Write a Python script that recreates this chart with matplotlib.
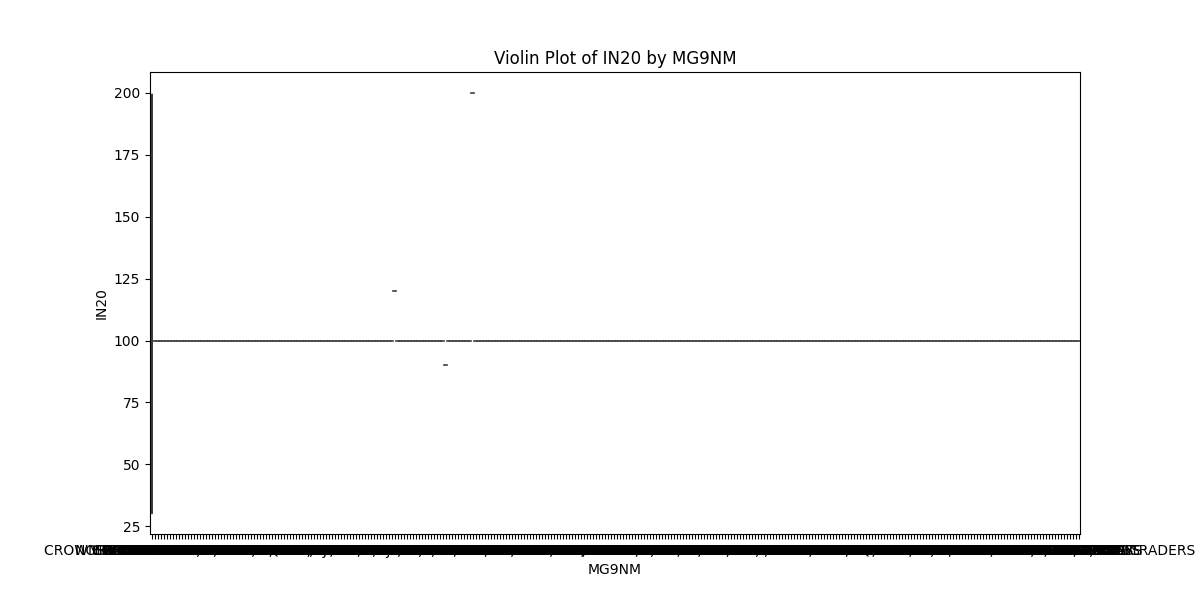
"""
Violin plot of IN20 by MG9NM.

Almost every MG9NM group has a single IN20 reading, so its "violin" collapses
to a short horizontal tick; only the first group has enough readings for a KDE.
"""

import matplotlib

matplotlib.use("Agg")
import matplotlib.pyplot as plt
import numpy as np

# ── data ────────────────────────────────────────────────────────────────────
categories = [
    "CROWN WHOLESALE SUPPLIES", "GWINNETT FARMS", "NORTH STAR LOGISTICS", "HARBOR MILLS, INC", "ATLAS PRODUCE",
    "BLUE RIDGE DAIRY", "SUMMIT TRADING CO", "EAGLE FOODS", "PIONEER GRAIN, LLC", "VALLEY FRESH",
    "METRO DISTRIBUTING", "OAKWOOD PROVISIONS", "RIVERSIDE MARKET", "GOLDEN STATE FOODS", "PRAIRIE HARVEST",
    "LAKESHORE BAKERY, INC", "COASTAL SEAFOOD", "GRANITE PEAK SUPPLY", "KEYSTONE MEATS", "HIGHLAND ORCHARDS",
    "CEDAR CREEK FARMS", "FRONTIER BEVERAGE", "MIDWEST PACKING, CO", "SUNRISE CITRUS", "IRONWOOD TRADERS",
    "LIBERTY FOODS", "BAYVIEW IMPORTS", "CANYON RANCH MEATS", "SILVER LAKE DAIRY", "TRI-COUNTY GROCERS",
    "HERITAGE MILLING", "EVERGREEN PRODUCE, LLC", "PINNACLE FOODS", "MAPLE LEAF FARMS", "DELTA RICE CO",
    "CAPITAL CITY SUPPLY", "NORTHERN LIGHTS, INC", "SOUTHERN PRIDE", "WESTFIELD GRAIN", "MERIDIAN FOODS",
    "REDWOOD BREWING", "FAIRVIEW CREAMERY", "BRIGHTON MARKETS", "HILLCREST FARMS, CO", "STERLING PROVISIONS",
    "MAGNOLIA FOODS", "PACIFIC RIM TRADING", "ROCKY MOUNTAIN BEEF", "COUNTRYSIDE EGGS", "ANCHOR FISHERIES",
    "BENCHMARK FOODS, INC", "CROSSROADS SUPPLY", "WILLOW BROOK DAIRY", "THUNDER BAY MILLS", "CORNERSTONE MEATS",
    "HORIZON ORGANICS", "SANDSTONE BAKERY", "PATRIOT PRODUCE", "GREENFIELD GROWERS", "MOHAWK VALLEY, LLC",
    "SEASIDE CANNERY", "BLACKSTONE FOODS", "PEACHTREE FARMS", "CARDINAL DISTRIBUTORS", "TIMBERLINE SUPPLY",
    "QUAIL RIDGE POULTRY", "UNITED GROCERS, CO", "VANGUARD FOODS", "ORCHARD HILL CIDER", "LONE STAR MEATS",
    "BROOKSIDE CREAMERY", "SHORELINE SEAFOOD", "HAMPTON PROVISIONS", "STONEGATE FARMS", "ALLIANCE FOODS, INC",
    "PRESIDIO IMPORTS", "WHITE OAK MILLING", "BUCKEYE PRODUCE", "FOXHOLLOW DAIRY", "GATEWAY MARKETS",
    "SUNBELT BEVERAGE", "JUNIPER FOODS, LLC", "RAINIER FRUIT CO", "BIG SKY RANCH", "COPPER KETTLE",
    "WOODLAND FOODS", "MARINER FISH CO", "HARVEST MOON, INC", "CLEARWATER SUPPLY", "IMPERIAL SUGAR",
    "SPRINGDALE FARMS", "MAJESTIC FOODS", "TWIN CITIES GROCERS", "BLUEWATER TRADING", "GRAND PRAIRIE MILLS",
    "OLD MILL BAKERY, CO", "PALMETTO PRODUCE", "KINGSWAY MEATS", "NORTHGATE FOODS", "RIDGEWAY DAIRY",
    "SUNSET ORCHARDS", "CASCADE SPRINGS", "PILGRIM POULTRY", "ASPEN GROVE FARMS", "BAY STATE FOODS, INC",
    "CENTURY SUPPLY", "FREEDOM FOODS", "YANKEE PROVISIONS", "ROYAL HARVEST", "TRAILSIDE MARKET",
    "ELMWOOD CREAMERY", "LANDMARK FOODS", "SIERRA NEVADA FARMS", "TIDEWATER SEAFOOD, LLC", "HOMESTEAD MEATS",
    "PARKSIDE GROCERS", "BRIARWOOD FARMS", "CHAMPION FOODS", "GLACIER BAY FISH", "MIDLAND GRAIN CO",
    "NEW HORIZON FOODS", "SHAMROCK DAIRY", "FALCON DISTRIBUTING", "MESA VERDE PRODUCE", "OCEANSIDE PACKERS, INC",
    "HICKORY SMOKEHOUSE", "POPLAR FARMS", "DOMINION FOODS", "WESTWIND TRADING", "GOLDEN GRAIN MILLS",
    "SILVERADO RANCH", "HAVEN FOODS, CO", "MOUNTAIN VIEW DAIRY", "STATELINE SUPPLY", "ARROWHEAD MEATS",
    "BOULDER CREEK FARMS", "CRESCENT FOODS", "HARBORVIEW MARKET", "LAUREL HILL CREAMERY", "PEAK PERFORMANCE",
    "SUNNYSIDE EGGS", "RIVERBEND PRODUCE, LLC", "CITADEL FOODS", "WHEATLAND MILLS", "BAYOU SEAFOOD",
    "PRIMROSE BAKERY", "STAGECOACH MEATS", "NORTHFIELD FARMS", "COMMONWEALTH FOODS", "DESERT SUN CITRUS",
    "GREAT LAKES FISH, INC", "HOLLOW CREEK DAIRY", "MONARCH FOODS", "TRAILBLAZER SUPPLY", "OAK HARBOR FARMS",
    "SENTINEL PROVISIONS", "BLUEBONNET FOODS", "EMERALD COAST", "FOOTHILLS RANCH, CO", "KENSINGTON MARKETS",
    "WINDMILL FARMS", "PRESTIGE FOODS", "SALT CREEK PACKING", "NORTHSHORE BAKERY", "SUMMERFIELD PRODUCE",
    "HEARTLAND MEATS, LLC", "COLUMBIA GROCERS", "SPRUCE HILL DAIRY", "TRIDENT SEAFOOD", "AMBER WAVES GRAIN",
    "CHESTNUT FOODS", "PARAMOUNT SUPPLY", "WILDFLOWER HONEY", "RAVENWOOD FARMS, INC", "GULFSTREAM FISH",
    "ALPINE CREAMERY", "FRANKLIN PROVISIONS", "MISSION FOODS", "BLUE HERON MARKET", "STONEBRIDGE MILLS",
    "COUNTRY KITCHEN", "SEABREEZE PACKERS", "HILLSIDE ORCHARDS, CO", "EMPIRE FOODS", "TALLGRASS BEEF",
    "NEWPORT SEAFOOD", "WINDSOR GROCERS", "SAGEBRUSH RANCH", "MILLBROOK DAIRY", "LIGHTHOUSE FOODS",
    "CLOVERLEAF FARMS", "BEACON SUPPLY, LLC", "RED BARN MEATS", "SUNFLOWER MILLS", "HARBOR LIGHT FISH",
    "APPLEGATE FARMS", "TOWN & COUNTRY", "BIRCHWOOD FOODS", "CANAL STREET MARKET", "GOLDEN GATE PRODUCE",
    "MEADOWLARK DAIRY", "IRON HORSE FOODS, INC", "WESTERN RESERVE", "COTTONWOOD FARMS", "DAYBREAK BAKERY",
    "OZARK MOUNTAIN", "SEAGATE FISHERIES", "HIGHPOINT SUPPLY", "MAPLEWOOD MEATS", "VICTORY FOODS",
    "FIRESIDE PROVISIONS", "CREEKSIDE PRODUCE, CO", "BALDWIN FARMS", "ATLANTIC PACKERS", "TERRACE FOODS",
    "FOREST GLEN DAIRY", "MOONLIGHT BAKERY", "GRANDVIEW MARKETS", "BUFFALO RIDGE BEEF", "SHOREWOOD GROCERS",
    "BLUE MOUNTAIN FOODS", "SADDLEBACK RANCH", "HAWTHORNE FARMS, LLC", "RIVER CITY SUPPLY", "BRANDYWINE FOODS",
    "CORAL REEF SEAFOOD", "PINE VALLEY MILLS", "STARLIGHT CREAMERY", "MOUNT VERNON MEATS", "PRAIRIE WIND",
    "SILVER SPRINGS", "HUNTINGTON FOODS", "LAKEVIEW ORCHARDS, INC", "CAMELOT PROVISIONS", "BRIGHTWATER FISH",
    "NORTH RIVER DAIRY", "STEEPLECHASE FARMS", "UNION GROCERS", "HEMLOCK FOODS", "RIMROCK RANCH",
    "SOUTHPOINT MARKET", "WATERFORD FOODS, CO", "CLIFFSIDE BAKERY", "AUTUMN HARVEST", "KINGFISHER SEAFOOD",
    "BRAMBLE FARMS", "DIAMOND FOODS", "EASTGATE SUPPLY", "SUNCREST PRODUCE", "WOODBURY MEATS",
    "GREYSTONE MILLS", "MARIGOLD DAIRY, LLC", "OVERLAND FOODS", "PEBBLE BEACH FISH", "ROSEWOOD FARMS",
    "HARMONY GROCERS", "CHAPARRAL RANCH", "BELLWETHER FOODS", "NORTHWIND BAKERY", "SPRING VALLEY",
    "QUARRY HILL FARMS", "WESTBROOK FOODS, INC", "COBBLESTONE MARKET", "BLUEGRASS MEATS", "HARBOR POINT",
    "FIELDSTONE DAIRY", "OLYMPIC SEAFOOD", "PRAIRIE ROSE", "SUMMIT VIEW SUPPLY", "CARRIAGE HOUSE",
    "LINDEN FARMS", "SOUTHWIND PRODUCE, CO", "ASHFORD FOODS", "EAGLE CREST MILLS", "BRENTWOOD GROCERS",
    "DRIFTWOOD FISH", "HOLLYBROOK DAIRY", "GOLDEN VALLEY BEEF", "RIDGELINE FOODS", "BAYSIDE BAKERY",
    "STAR VALLEY FARMS", "MILLSTONE FOODS, LLC", "WHISPERING PINES", "CROWN POINT MEATS", "SEAVIEW PACKERS",
    "OAKRIDGE SUPPLY", "FAIRHAVEN MARKET", "THISTLE DOWN DAIRY", "CEDAR RAPIDS GRAIN", "PHOENIX FOODS",
    "LONG MEADOW FARMS", "HIGH PLAINS BEEF, INC", "BRIDGEWATER FOODS", "SEACOAST FISH CO", "TANGLEWOOD PRODUCE",
    "RIVERSTONE MILLS", "GOLDEN FIELDS", "HAMILTON GROCERS", "SKYLINE CREAMERY", "NORTH COUNTY",
    "WILLOWMERE FOODS", "BASIN HARVEST", "PRAIRIE STAR, CO", "HARBORSIDE FOODS", "EASTWOOD FARMS",
    "TIMBER CREEK", "SOUTH BAY PACKERS", "MILL POND DAIRY", "OAK KNOLL MEATS", "WEST COAST PRODUCE TRADERS",
]

# one IN20 reading per group (rows of 10 follow the category rows above)
in20 = [
    100, 100, 100, 100, 100, 100, 100, 100, 100, 100,
    100, 100, 100, 100, 100, 100, 100, 100, 100, 100,
    100, 100, 100, 100, 100, 100, 100, 100, 100, 100,
    100, 100, 100, 100, 100, 100, 100, 100, 100, 100,
    100, 100, 100, 100, 100, 100, 100, 100, 100, 100,
    100, 100, 100, 100, 100, 100, 100, 100, 100, 100,
    100, 100, 100, 100, 100, 100, 100, 100, 100, 100,
    100, 100, 100, 100, 100, 100, 100, 100, 100, 100,
    100, 120, 100, 100, 100, 100, 100, 100, 100, 100,
    100, 100, 100, 100, 100, 100, 100, 100, 90, 100,
    100, 100, 100, 100, 100, 100, 100, 200, 100, 100,
    100, 100, 100, 100, 100, 100, 100, 100, 100, 100,
    100, 100, 100, 100, 100, 100, 100, 100, 100, 100,
    100, 100, 100, 100, 100, 100, 100, 100, 100, 100,
    100, 100, 100, 100, 100, 100, 100, 100, 100, 100,
    100, 100, 100, 100, 100, 100, 100, 100, 100, 100,
    100, 100, 100, 100, 100, 100, 100, 100, 100, 100,
    100, 100, 100, 100, 100, 100, 100, 100, 100, 100,
    100, 100, 100, 100, 100, 100, 100, 100, 100, 100,
    100, 100, 100, 100, 100, 100, 100, 100, 100, 100,
    100, 100, 100, 100, 100, 100, 100, 100, 100, 100,
    100, 100, 100, 100, 100, 100, 100, 100, 100, 100,
    100, 100, 100, 100, 100, 100, 100, 100, 100, 100,
    100, 100, 100, 100, 100, 100, 100, 100, 100, 100,
    100, 100, 100, 100, 100, 100, 100, 100, 100, 100,
    100, 100, 100, 100, 100, 100, 100, 100, 100, 100,
    100, 100, 100, 100, 100, 100, 100, 100, 100, 100,
    100, 100, 100, 100, 100, 100, 100, 100, 100, 100,
    100, 100, 100, 100, 100, 100, 100, 100, 100, 100,
    100, 100, 100, 100, 100, 100, 100, 100, 100, 100,
    100, 100, 100, 100, 100, 100, 100, 100, 100, 100,
]

# the first group has four more readings than the others
first_group_extra = [74, 100, 100, 156]

GRAY = "#3d3d3d"
FILL = "#f77189"
WIDTH = 0.8


def _kde(obs, cut=2, gridsize=100):
    """Gaussian KDE with Scott's bandwidth, evaluated over min/max +- cut*bw."""
    obs = np.asarray(obs, dtype=float)
    bw = obs.std(ddof=1) * len(obs) ** (-1 / 5)
    support = np.linspace(obs.min() - cut * bw, obs.max() + cut * bw, gridsize)
    z = (support[:, None] - obs[None, :]) / bw
    density = np.exp(-0.5 * z ** 2).sum(axis=1) / (len(obs) * bw * np.sqrt(2 * np.pi))
    return support, density


groups = [[v] for v in in20]
groups[0] = groups[0] + first_group_extra

fig, ax = plt.subplots(figsize=(12, 6), dpi=100)

for i, obs in enumerate(groups):
    if len(obs) == 1:
        # single observation: a flat line, full width (density scaled to 1)
        ax.plot([i - WIDTH / 2, i + WIDTH / 2], [obs[0], obs[0]],
                color=GRAY, linewidth=1.2)
    else:
        support, density = _kde(obs)
        # area scaling: singles carry density 1, so that is the max
        half = density / max(1.0, density.max()) * WIDTH / 2
        ax.fill_betweenx(support, i - half, i + half, facecolor=FILL,
                         edgecolor=GRAY, linewidth=1.2)

ax.set_xticks(range(len(categories)))
ax.set_xticklabels(categories)
ax.set_xlim(-0.5, len(categories) - 0.5)

ax.set_title("Violin Plot of IN20 by MG9NM")
ax.set_xlabel("MG9NM")
ax.set_ylabel("IN20")

fig.savefig("out.png", dpi=100)
plt.close(fig)
